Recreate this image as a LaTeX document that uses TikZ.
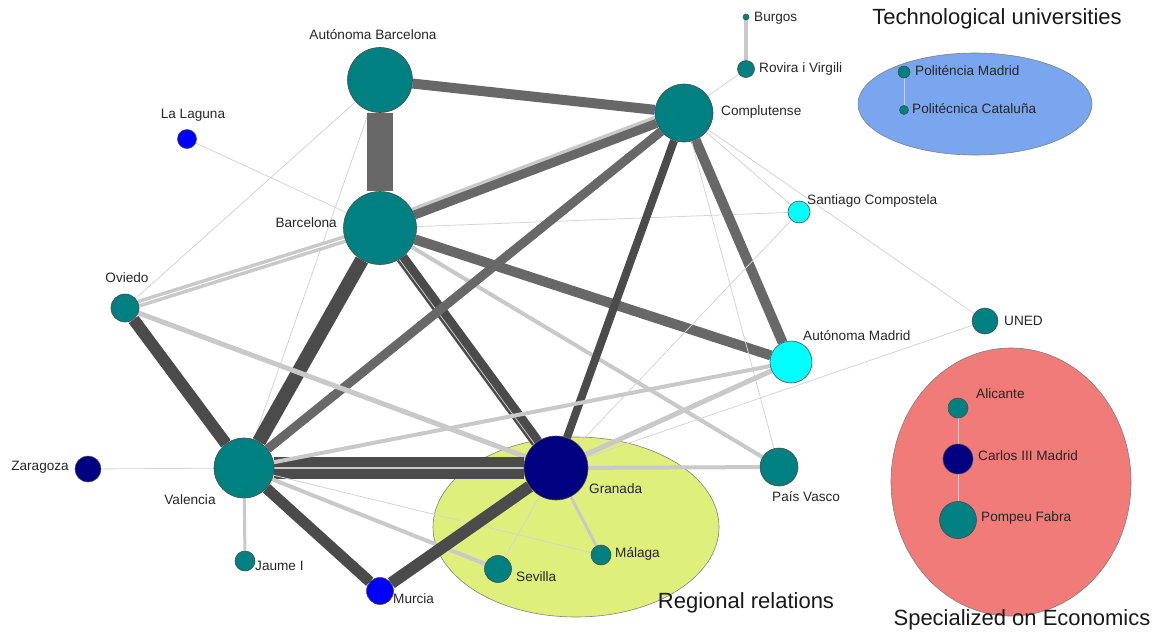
\documentclass[tikz,border=0pt]{standalone}
\usepackage{fontspec}
\setmainfont{Liberation Sans}
\usetikzlibrary{calc}
\definecolor{uniteal}{HTML}{008080}
\definecolor{uninavy}{HTML}{000080}
\definecolor{uniblue}{HTML}{0000FF}
\definecolor{unicyan}{HTML}{00FFFF}
\definecolor{edgedark}{HTML}{4B4B4B}
\definecolor{edgemid}{HTML}{686868}
\definecolor{edgelight}{HTML}{C9C9C9}
\definecolor{edgefaint}{HTML}{D4D4D4}
\definecolor{regionfill}{HTML}{DFEF7B}
\definecolor{econfill}{HTML}{F07B78}
\definecolor{techfill}{HTML}{7AA6EF}
\pgfdeclarelayer{groups}
\pgfdeclarelayer{edges}
\pgfsetlayers{groups,edges,main}
\begin{document}
\begin{tikzpicture}[x=1pt, y=-1pt,
        uni/.style={circle, draw=black!70, line width=0.6pt, inner sep=0pt, minimum size=#1pt},
        lbl/.style={font=\fontsize{13.6}{15}\selectfont, text=black!85, inner sep=1pt},
        grouptitle/.style={font=\fontsize{22}{26}\selectfont, text=black!90, inner sep=0pt},
        darkedge/.style={draw=edgedark, line width=#1pt},
        midedge/.style={draw=edgemid, line width=#1pt},
        lightedge/.style={draw=edgelight, line width=#1pt},
        faintedge/.style={draw=edgefaint, line width=0.8pt}]
    %\draw[lightgray] (0, 0) grid[step=50] (1154, 633);
    \useasboundingbox (0, 0) rectangle (1154, 633);
    \begin{pgfonlayer}{groups}
        \filldraw[fill=techfill, draw=gray, line width=0.6pt] (975, 104) ellipse [x radius=117pt, y radius=51pt];
        \filldraw[fill=regionfill, draw=gray, line width=0.6pt] (576, 527) ellipse [x radius=143pt, y radius=90pt];
        \filldraw[fill=econfill, draw=gray, line width=0.6pt] (1011, 482) ellipse [x radius=120pt, y radius=134pt];
    \end{pgfonlayer}
    \node[uni=6, fill=uniteal] (burgos) at (746, 17) {};
    \node[uni=17, fill=uniteal] (rovira) at (746, 69) {};
    \node[uni=58, fill=uniteal] (complutense) at (684, 113) {};
    \node[uni=65, fill=uniteal] (autbarcelona) at (380, 80) {};
    \node[uni=19, fill=uniblue] (laguna) at (187, 139) {};
    \node[uni=73, fill=uniteal] (barcelona) at (380, 228) {};
    \node[uni=22, fill=unicyan] (santiago) at (799, 212) {};
    \node[uni=28, fill=uniteal] (oviedo) at (125, 308) {};
    \node[uni=26, fill=uniteal] (uned) at (985, 321) {};
    \node[uni=42, fill=unicyan] (autmadrid) at (791, 362) {};
    \node[uni=26, fill=uninavy] (zaragoza) at (88, 469) {};
    \node[uni=60, fill=uniteal] (valencia) at (244, 468) {};
    \node[uni=64, fill=uninavy] (granada) at (556, 468) {};
    \node[uni=38, fill=uniteal] (paisvasco) at (779, 467) {};
    \node[uni=20, fill=uniteal] (jaume) at (245, 561) {};
    \node[uni=27, fill=uniblue] (murcia) at (380, 591) {};
    \node[uni=27, fill=uniteal] (sevilla) at (498, 569) {};
    \node[uni=20, fill=uniteal] (malaga) at (601, 555) {};
    \node[uni=20, fill=uniteal] (alicante) at (958, 408) {};
    \node[uni=30, fill=uninavy] (carlos) at (958, 459) {};
    \node[uni=37, fill=uniteal] (pompeu) at (958, 520) {};
    \node[uni=12, fill=uniteal] (polmadrid) at (904, 72) {};
    \node[uni=9, fill=uniteal] (polcataluna) at (904, 110) {};
    \begin{pgfonlayer}{edges}
        \draw[faintedge] (autbarcelona) -- (oviedo);
        \draw[faintedge] (autbarcelona) -- (valencia);
        \draw[midedge=26] (autbarcelona) -- (barcelona);
        \draw[midedge=10] (autbarcelona) -- (complutense);
        \draw[lightedge=4] ([shift={(-2, -5.5)}]barcelona.center) -- ([shift={(-2, -5.5)}]complutense.center);
        \draw[midedge=9] (barcelona) -- (complutense);
        \draw[darkedge=14] (barcelona) -- (valencia);
        \draw[darkedge=12] (barcelona) -- (granada);
        \draw[edgelight, line width=0.8pt] ([shift={(-2.5, 1.8)}]barcelona.center) -- ([shift={(-2.5, 1.8)}]granada.center);
        \draw[midedge=10] (barcelona) -- (autmadrid);
        \draw[lightedge=4] (barcelona) -- (paisvasco);
        \draw[edgelight, line width=3.5pt, double=white, double distance=1pt] (barcelona) -- (oviedo);
        \draw[faintedge] (barcelona) -- (santiago);
        \draw[faintedge] (barcelona) -- (laguna);
        \draw[midedge=9] (complutense) -- (valencia);
        \draw[darkedge=8] (complutense) -- (granada);
        \draw[midedge=10] (complutense) -- (autmadrid);
        \draw[faintedge] (complutense) -- (rovira);
        \draw[faintedge] (complutense) -- (santiago);
        \draw[faintedge] (complutense) -- (uned);
        \draw[faintedge] (complutense) -- (paisvasco);
        \draw[darkedge=12] (oviedo) -- (valencia);
        \draw[lightedge=5] (oviedo) -- (granada);
        \draw[edgedark, line width=10.5pt, double=edgelight, double distance=1.5pt] (valencia) -- (granada);
        \draw[lightedge=4] (valencia) -- (autmadrid);
        \draw[faintedge] (valencia) -- (zaragoza);
        \draw[lightedge=3] (valencia) -- (jaume);
        \draw[darkedge=11] (valencia) -- (murcia);
        \draw[lightedge=4] (valencia) -- (sevilla);
        \draw[faintedge] (valencia) -- (malaga);
        \draw[darkedge=12] (granada) -- (murcia);
        \draw[lightedge=5] (granada) -- (autmadrid);
        \draw[lightedge=4] (granada) -- (paisvasco);
        \draw[faintedge] (granada) -- (sevilla);
        \draw[lightedge=3] (granada) -- (malaga);
        \draw[faintedge] (granada) -- (santiago);
        \draw[faintedge] (granada) -- (uned);
        \draw[lightedge=4] (burgos) -- (rovira);
        \draw[faintedge] (alicante) -- (carlos);
        \draw[faintedge] (carlos) -- (pompeu);
        \draw[faintedge] (polmadrid) -- (polcataluna);
    \end{pgfonlayer}
    \node[lbl, right] (burgos label) at (753, 18) {Burgos};
    \node[lbl, right] (rovira label) at (758, 69) {Rovira i Virgili};
    \node[lbl, right] (complutense label) at (720, 112) {Complutense};
    \node[lbl] (autbarcelona label) at (373, 35) {Autónoma Barcelona};
    \node[lbl] (laguna label) at (193, 115) {La Laguna};
    \node[lbl, left] (barcelona label) at (338, 223) {Barcelona};
    \node[lbl, right] (santiago label) at (806, 201) {Santiago Compostela};
    \node[lbl] (oviedo label) at (127, 278) {Oviedo};
    \node[lbl, right] (uned label) at (1003, 321) {UNED};
    \node[lbl, right] (autmadrid label) at (802, 336) {Autónoma Madrid};
    \node[lbl, left] (zaragoza label) at (70, 467) {Zaragoza};
    \node[lbl] (valencia label) at (190, 500) {Valencia};
    \node[lbl, right] (granada label) at (588, 489) {Granada};
    \node[lbl, right] (paisvasco label) at (771, 497) {País Vasco};
    \node[lbl, right] (jaume label) at (254, 566) {Jaume I};
    \node[lbl, right] (murcia label) at (392, 599) {Murcia};
    \node[lbl, right] (sevilla label) at (515, 577) {Sevilla};
    \node[lbl, right] (malaga label) at (614, 554) {Málaga};
    \node[lbl, right] (alicante label) at (975, 394) {Alicante};
    \node[lbl, right] (carlos label) at (977, 456) {Carlos III Madrid};
    \node[lbl, right] (pompeu label) at (980, 518) {Pompeu Fabra};
    \node[lbl, right] (polmadrid label) at (914, 71) {Politéncia Madrid};
    \node[lbl, right] (polcataluna label) at (911, 109) {Politécnica Cataluña};
    \node[grouptitle] (tech title) at (997, 19) {Technological universities};
    \node[grouptitle] (regional title) at (746, 603) {Regional relations};
    \node[grouptitle] (econ title) at (1022, 620) {Specialized on Economics};
\end{tikzpicture}
\end{document}
